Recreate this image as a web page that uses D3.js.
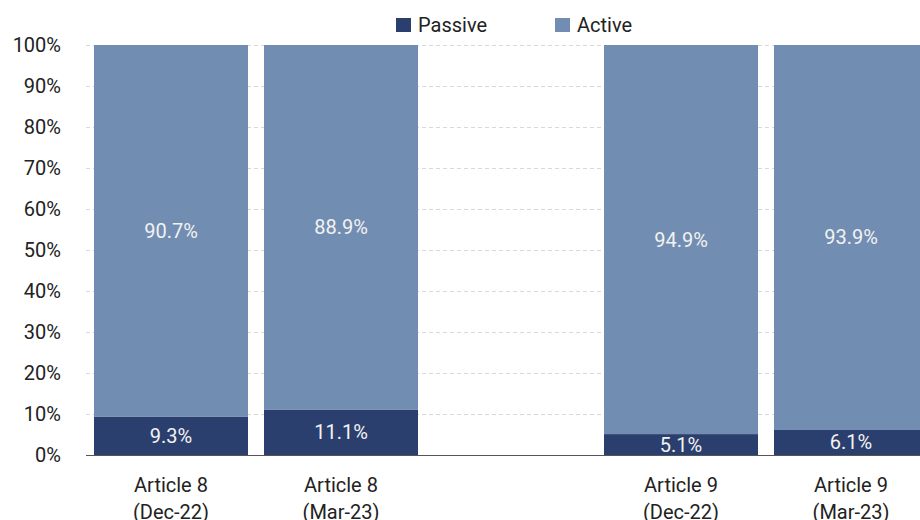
<!DOCTYPE html>
<html>
<head>
<meta charset="utf-8">
<script src="https://cdn.jsdelivr.net/npm/d3@7"></script>
<style>
  body { margin: 0; background: #fff; }
  svg { display: block; font-family: 'Liberation Sans Narrow', 'Roboto', sans-serif; }
</style>
</head>
<body>
<div id="graph"></div>
<script>
'use strict'

const categories = [
  ['Article 8', '(Dec-22)'],
  ['Article 8', '(Mar-23)'],
  ['', ''],
  ['Article 9', '(Dec-22)'],
  ['Article 9', '(Mar-23)']
]
const passive = [9.3, 11.1, null, 5.1, 6.1]
const active = [90.7, 88.9, null, 94.9, 93.9]
const yTicks = [0, 10, 20, 30, 40, 50, 60, 70, 80, 90, 100]

const colors = { passive: '#2b3f6e', active: '#718db1' }

let cw = 920, ch = 520
let svg = d3.select('#graph').append('svg')
  .attr('width', cw)
  .attr('height', ch)

let x = d3.scaleBand()
  .domain(d3.range(categories.length))
  .range([86, 86 + 170 * categories.length])
  .paddingInner(16 / 170)
  .paddingOuter(8 / 170)
let y = d3.scaleLinear()
  .domain([0, 100])
  .range([455, 45])

// grid
svg.append('g')
  .selectAll('line')
  .data(yTicks.filter(d => d > 0))
  .join('line')
    .attr('x1', 86)
    .attr('x2', cw)
    .attr('y1', d => y(d) + 0.5)
    .attr('y2', d => y(d) + 0.5)
    .attr('stroke', '#d9d9d9')
    .attr('stroke-dasharray', '4,3')

// y labels
svg.append('g')
  .selectAll('text')
  .data(yTicks)
  .join('text')
    .attr('x', 61)
    .attr('y', d => y(d))
    .attr('dy', '0.35em')
    .attr('text-anchor', 'end')
    .attr('font-size', 20)
    .attr('fill', '#222')
    .text(d => d + '%')

let rows = categories.map((c, i) => ({ i, p: passive[i], a: active[i] })).filter(d => d.p != null)

let bars = svg.append('g')
bars.selectAll('rect.passive')
  .data(rows)
  .join('rect')
    .attr('class', 'passive')
    .attr('x', d => x(d.i))
    .attr('width', x.bandwidth())
    .attr('y', d => y(d.p))
    .attr('height', d => y(0) - y(d.p))
    .attr('fill', colors.passive)
bars.selectAll('rect.active')
  .data(rows)
  .join('rect')
    .attr('class', 'active')
    .attr('x', d => x(d.i))
    .attr('width', x.bandwidth())
    .attr('y', d => y(d.p + d.a))
    .attr('height', d => y(d.p) - y(d.p + d.a))
    .attr('fill', colors.active)

// value labels
let labels = svg.append('g')
  .attr('text-anchor', 'middle')
  .attr('font-size', 20)
  .attr('fill', '#f2f2f2')
labels.selectAll('text.p')
  .data(rows)
  .join('text')
    .attr('x', d => x(d.i) + x.bandwidth() / 2)
    .attr('y', d => (y(0) + y(d.p)) / 2)
    .attr('dy', '0.35em')
    .text(d => d.p.toFixed(1) + '%')
labels.selectAll('text.a')
  .data(rows)
  .join('text')
    .attr('x', d => x(d.i) + x.bandwidth() / 2)
    .attr('y', d => (y(d.p) + y(d.p + d.a)) / 2)
    .attr('dy', '0.35em')
    .text(d => d.a.toFixed(1) + '%')

// baseline
svg.append('line')
  .attr('x1', 86)
  .attr('x2', cw)
  .attr('y1', y(0) + 0.5)
  .attr('y2', y(0) + 0.5)
  .attr('stroke', '#555')
  .attr('stroke-width', 1.2)

// category labels
let cat = svg.append('g')
  .attr('text-anchor', 'middle')
  .attr('font-size', 20)
  .attr('fill', '#222')
categories.forEach((c, i) => {
  let t = cat.append('text')
    .attr('x', x(i) + x.bandwidth() / 2)
    .attr('y', 492)
  t.append('tspan').attr('x', x(i) + x.bandwidth() / 2).text(c[0])
  t.append('tspan').attr('x', x(i) + x.bandwidth() / 2).attr('dy', 27).text(c[1])
})

// legend
let legend = svg.append('g')
  .attr('class', 'legend')
let items = [
  { name: 'Passive', color: colors.passive, x: 396 },
  { name: 'Active', color: colors.active, x: 555 }
]
items.forEach(it => {
  legend.append('rect')
    .attr('x', it.x)
    .attr('y', 18)
    .attr('width', 15)
    .attr('height', 14)
    .attr('fill', it.color)
  legend.append('text')
    .attr('x', it.x + 22)
    .attr('y', 25)
    .attr('dy', '0.35em')
    .attr('font-size', 20)
    .attr('fill', '#222')
    .text(it.name)
})
</script>
</body>
</html>
